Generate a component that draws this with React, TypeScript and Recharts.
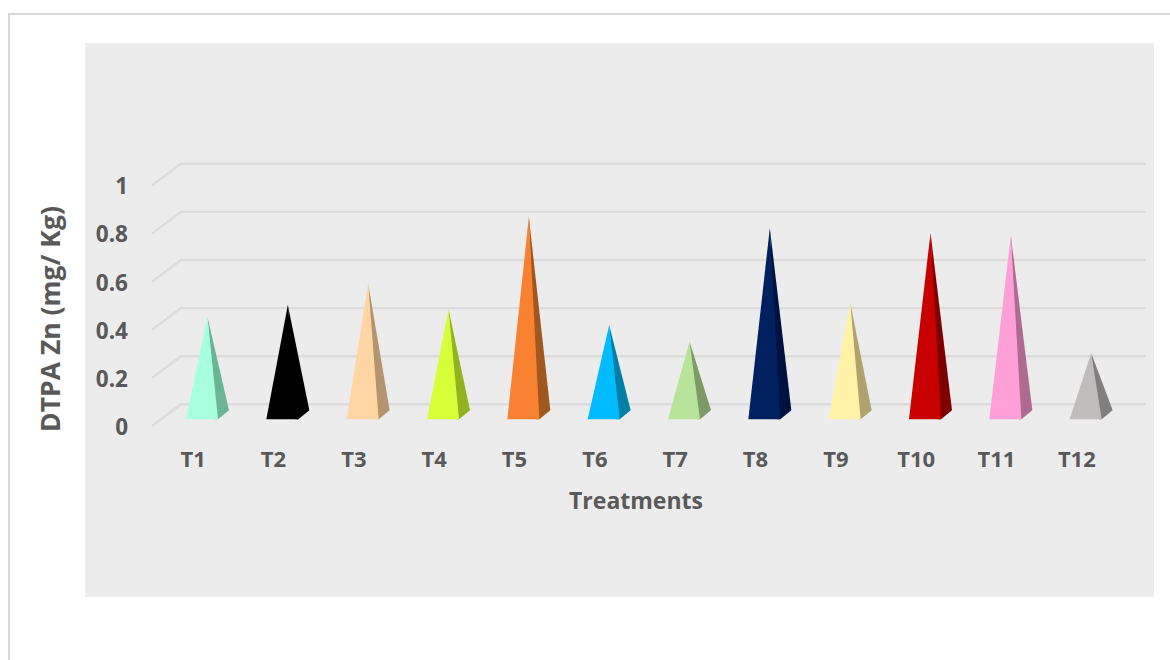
import React from "react";
import { BarChart, Bar, XAxis, YAxis, CartesianGrid, Label } from "recharts";

const categories = ["T1", "T2", "T3", "T4", "T5", "T6", "T7", "T8", "T9", "T10", "T11", "T12"];
const dtpaZn = [0.425, 0.475, 0.565, 0.458, 0.842, 0.392, 0.323, 0.795, 0.486, 0.775, 0.765, 0.276];
const yTicks = [0, 0.2, 0.4, 0.6, 0.8, 1];

const frontColors = ["#A6FFDD", "#000000", "#FFD5A3", "#D6FF3A", "#F88232", "#00BBFF", "#B8E39A", "#00205F", "#FFF2A6", "#C80000", "#FF9FD8", "#C0BCBC"];
const sideColors = ["#6BB595", "#000000", "#B4936F", "#90B31F", "#A0581F", "#0080A6", "#7D9A66", "#001340", "#B0A26F", "#7F0000", "#AE6A8F", "#7F7F7F"];

const data = categories.map((name, i) => ({ name, value: dtpaZn[i] }));

const FONT = "'Open Sans', sans-serif";
const TEXT = "#595959";
const GRID = "#dbdbdb";

const Pyramid = (props: any) => {
  const { x, y, width, height, index } = props;
  const base = y + height;
  const depthX = 11;
  const depthY = 9;
  const apexX = x + (width + depthX) / 2;
  return (
    <g>
      <polygon
        points={`${x + width - 3},${base} ${x + width},${base} ${x + width + depthX},${base - depthY} ${apexX},${y}`}
        fill={sideColors[index]}
      />
      <polygon points={`${x},${base} ${x + width},${base} ${apexX},${y}`} fill={frontColors[index]} />
    </g>
  );
};

const YTick = (props: any) => {
  const { y, payload } = props;
  return (
    <g>
      <line x1={152} y1={y + 6.7} x2={181} y2={y - 15} stroke={GRID} strokeWidth={2.4} />
      <text x={128} y={y + 15.5} textAnchor="end" fontFamily={FONT} fontWeight={700} fontSize={22.5} fill={TEXT}>
        {String(payload.value)}
      </text>
    </g>
  );
};

const XTick = (props: any) => {
  const { x, payload } = props;
  return (
    <text x={x - 9} y={467} textAnchor="middle" fontFamily={FONT} fontWeight={700} fontSize={22} fill={TEXT}>
      {payload.value}
    </text>
  );
};

const YTitle = () => (
  <text
    transform="translate(60,319) rotate(-90)"
    textAnchor="middle"
    fontFamily={FONT}
    fontWeight={700}
    fontSize={26.5}
    fill={TEXT}
  >
    DTPA Zn (mg/ Kg)
  </text>
);

const XTitle = () => (
  <text x={636} y={509} textAnchor="middle" fontFamily={FONT} fontWeight={700} fontSize={23} fill={TEXT}>
    Treatments
  </text>
);

export default function App() {
  return (
    <div style={{ position: "absolute", left: 0, top: 0, width: 1170, height: 660, background: "#fff", overflow: "hidden" }}>
      <div style={{ position: "absolute", left: 8, top: 13, width: 1170, height: 660, borderLeft: "2px solid #d9d9d9", borderTop: "2px solid #d9d9d9" }} />
      <div style={{ position: "absolute", left: 85, top: 43, width: 1069, height: 554, background: "#ececec" }} />
      <div style={{ position: "absolute", left: 0, top: 0 }}>
        <BarChart
          width={1170}
          height={660}
          data={data}
          margin={{ top: 178.8, right: 44, bottom: 180.7, left: 102 }}
          barCategoryGap={0}
        >
          <CartesianGrid
            vertical={false}
            x={180}
            width={966}
            stroke={GRID}
            strokeWidth={2.4}
            horizontalCoordinatesGenerator={({ offset }: any) =>
              yTicks.map((t) => offset.top + (1 - t) * offset.height - 15)
            }
          />
          <XAxis dataKey="name" axisLine={false} tickLine={false} height={60} interval={0} tick={<XTick />}>
            <Label content={<XTitle />} />
          </XAxis>
          <YAxis type="number" domain={[0, 1]} ticks={yTicks} axisLine={false} tickLine={false} width={60} interval={0} tick={<YTick />}>
            <Label content={<YTitle />} />
          </YAxis>
          <Bar dataKey="value" barSize={32} shape={<Pyramid />} isAnimationActive={false} />
        </BarChart>
      </div>
    </div>
  );
}
